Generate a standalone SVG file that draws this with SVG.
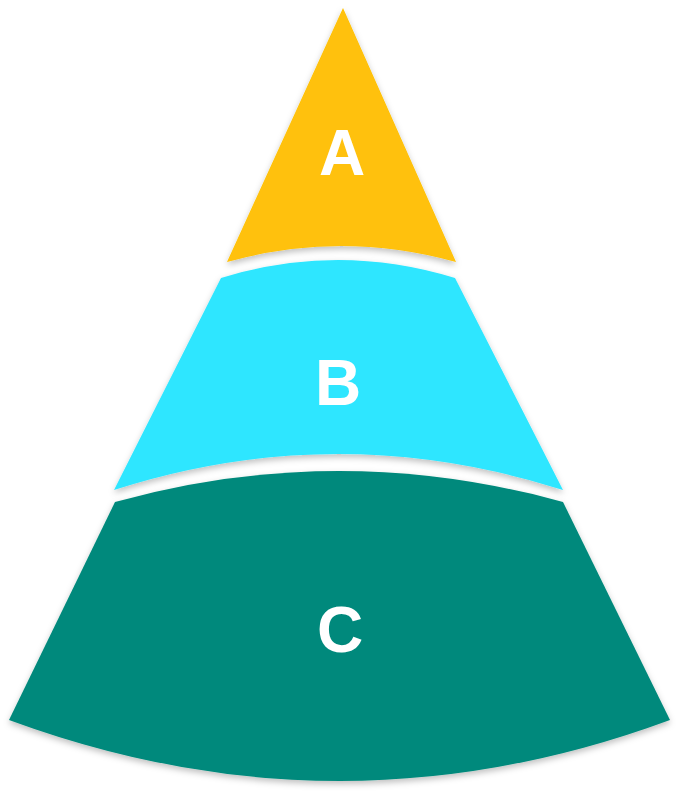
<svg xmlns="http://www.w3.org/2000/svg" width="681" height="795" viewBox="0 0 681 795">
<defs>
<filter id="sh" x="-10%" y="-10%" width="120%" height="130%"><feDropShadow dx="0" dy="3" stdDeviation="3" flood-color="#000" flood-opacity="0.25"/></filter>
<style>.lbl{font-family:"Liberation Sans",Arial,sans-serif;font-weight:bold;font-size:64px;fill:#fff;text-anchor:middle}</style>
</defs>
<rect width="681" height="795" fill="#fff"/>
<g id="A"><path d="M343,8 L456,262 Q341,230 227,262 Z" fill="#FFC107" filter="url(#sh)"/><text class="lbl" x="342" y="175">A</text></g>
<g id="B"><path d="M221,278 Q338,242 455,278 L563,490 Q338,418 114,490 Z" fill="#2EE6FF" filter="url(#sh)"/><text class="lbl" x="338" y="405">B</text></g>
<g id="C"><path d="M115,502 Q339,440 563,502 L670,720 Q340,842 9,720 Z" fill="#00897B" filter="url(#sh)"/><text class="lbl" x="340" y="652">C</text></g>
<g id="connectors"/>
</svg>
